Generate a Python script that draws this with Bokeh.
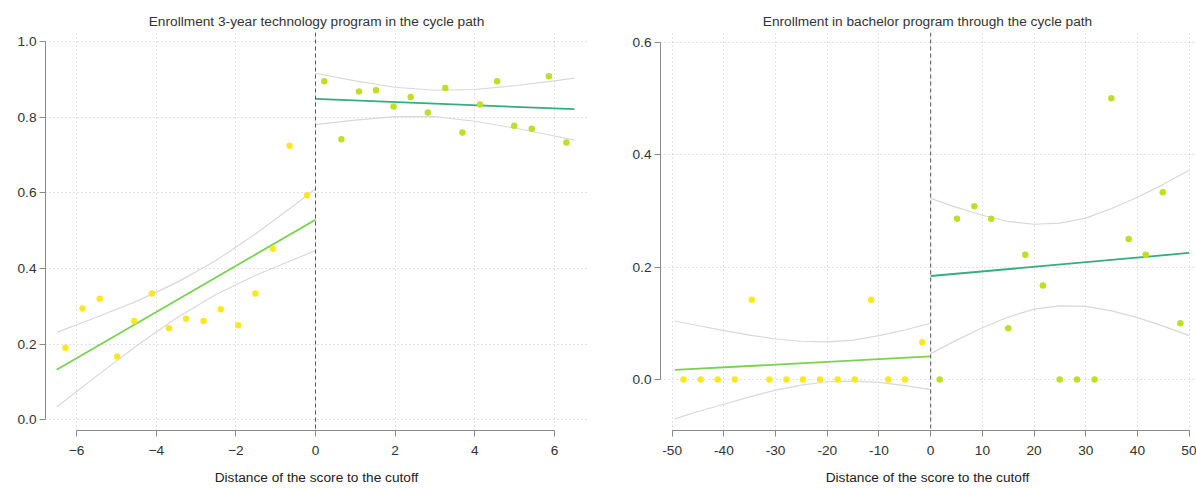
from bokeh.plotting import figure
from bokeh.models import Range1d, FixedTicker, PrintfTickFormatter, Span
from bokeh.layouts import row
from bokeh.embed import file_html
from bokeh.resources import INLINE

# ---------------- Left panel data (3-year technology program) ----------------
tech_title = "Enrollment 3-year technology program in the cycle path"
tech_x_below = [-6.28, -5.85, -5.42, -4.98, -4.55, -4.11, -3.68, -3.25, -2.81, -2.38, -1.94, -1.51, -1.07, -0.65, -0.21]
tech_y_below = [0.190, 0.294, 0.320, 0.167, 0.261, 0.334, 0.242, 0.267, 0.261, 0.292, 0.250, 0.334, 0.452, 0.725, 0.594]
tech_x_above = [0.22, 0.65, 1.09, 1.52, 1.96, 2.39, 2.82, 3.26, 3.69, 4.13, 4.56, 4.99, 5.43, 5.86, 6.30]
tech_y_above = [0.896, 0.742, 0.869, 0.872, 0.829, 0.854, 0.813, 0.878, 0.760, 0.834, 0.896, 0.778, 0.770, 0.909, 0.734]

tech_fit_x_below = [-6.5, 0.0]
tech_fit_y_below = [0.132, 0.529]
tech_fit_x_above = [0.0, 6.5]
tech_fit_y_above = [0.849, 0.822]

tech_ci_x_below = [-6.5, -5.5, -4.5, -3.5, -2.5, -1.5, -0.5, 0.0]
tech_ci_hi_below = [0.231, 0.271, 0.313, 0.362, 0.421, 0.492, 0.570, 0.611]
tech_ci_lo_below = [0.033, 0.115, 0.195, 0.268, 0.331, 0.382, 0.426, 0.447]
tech_ci_x_above = [0.0, 1.0, 2.0, 3.0, 4.0, 5.0, 6.0, 6.5]
tech_ci_hi_above = [0.917, 0.897, 0.880, 0.872, 0.874, 0.884, 0.897, 0.904]
tech_ci_lo_above = [0.781, 0.793, 0.802, 0.802, 0.790, 0.772, 0.751, 0.740]

tech_xticks = [-6, -4, -2, 0, 2, 4, 6]
tech_yticks = [0.0, 0.2, 0.4, 0.6, 0.8, 1.0]

# ---------------- Right panel data (bachelor program) ----------------
bach_title = "Enrollment in bachelor program through the cycle path"
bach_x_below = [-47.8, -44.5, -41.2, -37.9, -34.6, -31.2, -27.9, -24.7, -21.4, -18.0, -14.7, -11.5, -8.2, -4.97, -1.61]
bach_y_below = [0.0, 0.0, 0.0, 0.0, 0.142, 0.0, 0.0, 0.0, 0.0, 0.0, 0.0, 0.142, 0.0, 0.0, 0.066]
bach_x_above = [1.74, 5.09, 8.45, 11.7, 15.0, 18.3, 21.7, 24.95, 28.3, 31.7, 34.95, 38.3, 41.6, 44.9, 48.3]
bach_y_above = [0.0, 0.286, 0.308, 0.286, 0.091, 0.222, 0.167, 0.0, 0.0, 0.0, 0.500, 0.250, 0.222, 0.333, 0.100]

bach_fit_x_below = [-49.5, 0.0]
bach_fit_y_below = [0.017, 0.041]
bach_fit_x_above = [0.0, 50.0]
bach_fit_y_above = [0.184, 0.225]

bach_ci_x_below = [-49.5, -45, -40, -35, -30, -25, -20, -15, -10, -5, 0]
bach_ci_hi_below = [0.104, 0.096, 0.087, 0.079, 0.072, 0.068, 0.067, 0.070, 0.078, 0.088, 0.100]
bach_ci_lo_below = [-0.070, -0.057, -0.044, -0.031, -0.019, -0.010, -0.004, -0.003, -0.005, -0.011, -0.018]
bach_ci_x_above = [0, 5, 10, 15, 20, 25, 30, 35, 40, 45, 50]
bach_ci_hi_above = [0.322, 0.306, 0.292, 0.281, 0.276, 0.278, 0.287, 0.304, 0.324, 0.347, 0.372]
bach_ci_lo_above = [0.046, 0.070, 0.092, 0.111, 0.125, 0.131, 0.130, 0.122, 0.110, 0.095, 0.078]

bach_xticks = [-50, -40, -30, -20, -10, 0, 10, 20, 30, 40, 50]
bach_yticks = [0.0, 0.2, 0.4, 0.6]

x_label = "Distance of the score to the cutoff"

# ---------------- Styles ----------------
FONT = "Liberation Sans"
FS = "13.7px"
TXT = "#333333"
PT_BELOW = "#FDE725"
PT_ABOVE = "#BEDF26"
FIT_BELOW = "#7AD151"
FIT_ABOVE = "#33AE7C"
CI_COL = "#D8D8D8"
GRID_COL = "#C4C4C4"
AXIS_COL = "#8A8A8A"
FIG_H = 488


def make_panel(title, width, mbl, mbr, xr, yr, xticks, yticks, yfmt):
    p = figure(width=width, height=FIG_H, x_range=Range1d(*xr), y_range=Range1d(*yr),
               output_backend="svg", toolbar_location=None, title=title,
               min_border_left=mbl, min_border_right=mbr, min_border_top=32, min_border_bottom=58)
    p.outline_line_color = None
    p.background_fill_color = "white"
    p.border_fill_color = "white"
    p.title.align = "center"
    p.title.text_font = FONT
    p.title.text_font_size = FS
    p.title.text_font_style = "normal"
    p.title.text_color = TXT
    p.title.standoff = 7

    p.xaxis.ticker = FixedTicker(ticks=xticks)
    p.yaxis.ticker = FixedTicker(ticks=yticks)
    p.yaxis.formatter = PrintfTickFormatter(format=yfmt)
    p.xaxis.bounds = (xticks[0], xticks[-1])
    p.yaxis.bounds = (yticks[0], yticks[-1])
    for ax in (p.xaxis, p.yaxis):
        ax.axis_line_color = AXIS_COL
        ax.major_tick_line_color = AXIS_COL
        ax.major_tick_out = 6
        ax.major_tick_in = 0
        ax.minor_tick_line_color = None
        ax.major_label_text_font = FONT
        ax.major_label_text_font_size = FS
        ax.major_label_text_color = TXT
    p.xaxis.major_label_standoff = 9
    p.yaxis.major_label_standoff = 3
    p.xaxis.axis_label = x_label
    p.xaxis.axis_label_text_font = FONT
    p.xaxis.axis_label_text_font_size = FS
    p.xaxis.axis_label_text_font_style = "normal"
    p.xaxis.axis_label_text_color = "#222222"
    p.xaxis.axis_label_standoff = 12

    for g in (p.xgrid, p.ygrid):
        g.grid_line_color = GRID_COL
        g.grid_line_dash = "1 3"
        g.grid_line_width = 1
    return p


def draw(p, xb, yb, xa, ya, fxb, fyb, fxa, fya,
         cxb, chb, clb, cxa, cha, cla):
    # confidence bands
    p.line(cxb, chb, line_color=CI_COL, line_width=1.2)
    p.line(cxb, clb, line_color=CI_COL, line_width=1.2)
    p.line(cxa, cha, line_color=CI_COL, line_width=1.2)
    p.line(cxa, cla, line_color=CI_COL, line_width=1.2)
    # cutoff
    p.add_layout(Span(location=0, dimension="height", line_color="#555555",
                      line_dash="4 3", line_width=1))
    # fits
    p.line(fxb, fyb, line_color=FIT_BELOW, line_width=1.8)
    p.line(fxa, fya, line_color=FIT_ABOVE, line_width=1.8)
    # binned means
    p.scatter(xb, yb, size=6.5, fill_color=PT_BELOW, line_color=None)
    p.scatter(xa, ya, size=6.5, fill_color=PT_ABOVE, line_color=None)


left = make_panel(tech_title, 600, 45, 13, (-6.78, 6.83), (-0.029, 1.025),
                  tech_xticks, tech_yticks, "%.1f")
draw(left, tech_x_below, tech_y_below, tech_x_above, tech_y_above,
     tech_fit_x_below, tech_fit_y_below, tech_fit_x_above, tech_fit_y_above,
     tech_ci_x_below, tech_ci_hi_below, tech_ci_lo_below,
     tech_ci_x_above, tech_ci_hi_above, tech_ci_lo_above)

right = make_panel(bach_title, 596, 60, 2, (-52.26, 51.03), (-0.0907, 0.617),
                   bach_xticks, bach_yticks, "%.1f")
right.xaxis.formatter = PrintfTickFormatter(format="%d")
draw(right, bach_x_below, bach_y_below, bach_x_above, bach_y_above,
     bach_fit_x_below, bach_fit_y_below, bach_fit_x_above, bach_fit_y_above,
     bach_ci_x_below, bach_ci_hi_below, bach_ci_lo_below,
     bach_ci_x_above, bach_ci_hi_above, bach_ci_lo_above)

layout = row(left, right)
open("out.html", "w").write(file_html(layout, INLINE))
